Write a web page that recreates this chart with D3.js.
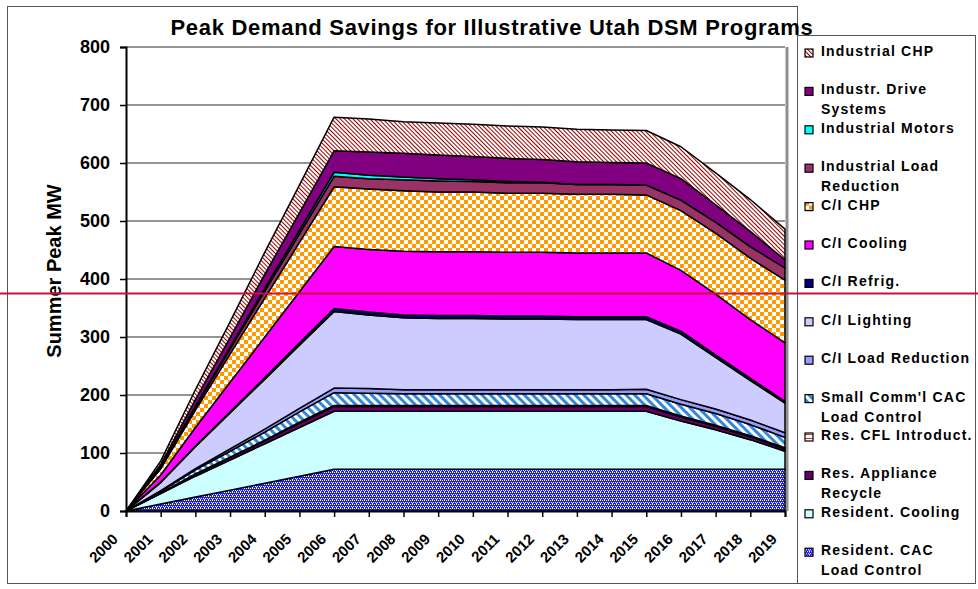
<!DOCTYPE html>
<html>
<head>
<meta charset="utf-8">
<script src="https://cdn.jsdelivr.net/npm/d3@7"></script>
<style>
  body { margin: 0; background: #fff; }
  svg { display: block; font-family: "Liberation Sans", Arial, sans-serif; }
</style>
</head>
<body>
<svg id="chart" width="978" height="589"></svg>
<script>
// years on the category axis
const years = d3.range(2000, 2020).map(String);

// MW per program, bottom of the stack first
const resCAC       = [0,12,24,36,48,60,72,72,72,72,72,72,72,72,72,72,72,72,72,72];
const resCooling   = [0,18,36,52,68,84,100,100,100,100,100,100,100,100,100,100,83,68,51,31];
const resAppliance = [0,1,3,4,5,7,8,8,8,8,8,8,8,8,8,8,7,6,5,4];
const resCFL       = [0,0,1,1,1,2,2,2,2,2,2,2,2,2,2,2,2,2,2,2];
const smallComm    = [0,3,7,10,14,18,22,21,20,20,20,20,20,20,20,20,20,20,19,18];
const ciLoadRed    = [0,1,2,4,5,6,8,8,7,7,7,7,7,7,7,8,8,8,8,8];
const ciLighting   = [0,14,38,62,86,109,132,127,124,123,123,122,122,121,121,120,113,89,68,51];
const ciRefrig     = [0,1,1,2,3,4,5,5,5,5,5,5,5,5,5,5,5,4,4,3];
const ciCooling    = [0,12,32,51,70,88,107,108,110,110,110,110,110,110,110,110,105,105,101,101];
const ciCHP        = [0,11,30,49,67,85,103,104,104,103,103,102,102,101,101,100,103,105,106,108];
const indLoadRed   = [0,2,5,8,12,15,18,18,19,19,18,18,18,17,17,17,18,19,20,21];
const indMotors    = [0,1,2,3,5,6,7,6,5,4,3,2,1,0,0,0,0,0,0,0];
const indDrive     = [0,4,11,17,24,30,37,40,41,41,40,40,39,39,38,38,37,30,26,14];
const indCHP       = [0,6,17,27,38,48,58,57,54,55,56,56,56,56,56,56,55,55,55,53];

const yTicks = [0,100,200,300,400,500,600,700,800];

const series = [
  {key: "resCAC",       label: ["Resident. CAC", "Load Control"],   values: resCAC,       fill: "url(#pCAC)"},
  {key: "resCooling",   label: ["Resident. Cooling"],               values: resCooling,   fill: "#ccffff"},
  {key: "resAppliance", label: ["Res. Appliance", "Recycle"],       values: resAppliance, fill: "#660066"},
  {key: "resCFL",       label: ["Res. CFL Introduct."],             values: resCFL,       fill: "url(#pCFL)"},
  {key: "smallComm",    label: ["Small Comm'l CAC", "Load Control"],values: smallComm,    fill: "url(#pSmall)"},
  {key: "ciLoadRed",    label: ["C/I Load Reduction"],              values: ciLoadRed,    fill: "#9999ff"},
  {key: "ciLighting",   label: ["C/I Lighting"],                    values: ciLighting,   fill: "#ccccff"},
  {key: "ciRefrig",     label: ["C/I Refrig."],                     values: ciRefrig,     fill: "#000080"},
  {key: "ciCooling",    label: ["C/I Cooling"],                     values: ciCooling,    fill: "#ff00ff"},
  {key: "ciCHP",        label: ["C/I CHP"],                         values: ciCHP,        fill: "url(#pCheck)"},
  {key: "indLoadRed",   label: ["Industrial Load", "Reduction"],    values: indLoadRed,   fill: "#993366"},
  {key: "indMotors",    label: ["Industrial Motors"],               values: indMotors,    fill: "#00ffff"},
  {key: "indDrive",     label: ["Industr. Drive", "Systems"],       values: indDrive,     fill: "#800080"},
  {key: "indCHP",       label: ["Industrial CHP"],                  values: indCHP,       fill: "url(#pIndCHP)"}
];

const svg = d3.select("#chart");
const defs = svg.append("defs");

// fill patterns
let p = defs.append("pattern").attr("id", "pCAC").attr("width", 4).attr("height", 4)
  .attr("patternUnits", "userSpaceOnUse");
p.append("rect").attr("width", 4).attr("height", 4).attr("fill", "#1a1aff");
[[0,0],[2,0],[1,2],[3,2],[0,3]].forEach(d => p.append("rect").attr("x", d[0]).attr("y", d[1])
  .attr("width", 1).attr("height", 1).attr("fill", "#fff"));

p = defs.append("pattern").attr("id", "pCFL").attr("width", 4).attr("height", 4)
  .attr("patternUnits", "userSpaceOnUse");
p.append("rect").attr("width", 4).attr("height", 4).attr("fill", "#fff");
p.append("rect").attr("y", 2).attr("width", 4).attr("height", 1).attr("fill", "#cc3333");

p = defs.append("pattern").attr("id", "pSmall").attr("width", 6).attr("height", 6)
  .attr("patternUnits", "userSpaceOnUse").attr("patternTransform", "rotate(-45)");
p.append("rect").attr("width", 6).attr("height", 6).attr("fill", "#fff");
p.append("rect").attr("width", 3).attr("height", 6).attr("fill", "#3388dd");

p = defs.append("pattern").attr("id", "pCheck").attr("width", 8).attr("height", 8)
  .attr("patternUnits", "userSpaceOnUse");
p.append("rect").attr("width", 8).attr("height", 8).attr("fill", "#fff");
p.append("rect").attr("width", 4).attr("height", 4).attr("fill", "#ff9900");
p.append("rect").attr("x", 4).attr("y", 4).attr("width", 4).attr("height", 4).attr("fill", "#ff9900");

p = defs.append("pattern").attr("id", "pIndCHP").attr("width", 3).attr("height", 3)
  .attr("patternUnits", "userSpaceOnUse").attr("patternTransform", "rotate(-45)");
p.append("rect").attr("width", 3).attr("height", 3).attr("fill", "#fff");
p.append("rect").attr("width", 1).attr("height", 3).attr("fill", "#990000");

// outer chart frame
svg.append("rect").attr("x", 7.5).attr("y", 6.5).attr("width", 790).attr("height", 577)
  .attr("fill", "#fff").attr("stroke", "#555").attr("stroke-width", 1);

const margin = {left: 126, right: 785, top: 47, bottom: 511};

const x = d3.scalePoint().domain(years).range([margin.left, margin.right]).padding(0);
const y = d3.scaleLinear().domain([0, 800]).range([margin.bottom, margin.top]);

// gridlines
svg.append("g").selectAll("line").data(yTicks.filter(d => d > 0)).join("line")
  .attr("x1", margin.left).attr("x2", margin.right)
  .attr("y1", d => y(d)).attr("y2", d => y(d))
  .attr("stroke", "#707070").attr("stroke-width", 1.5);

// plot right border
svg.append("line").attr("x1", margin.right + 2).attr("x2", margin.right + 2)
  .attr("y1", margin.top).attr("y2", margin.bottom)
  .attr("stroke", "#909090").attr("stroke-width", 3);

// stacked areas
const table = years.map((yr, i) => {
  const row = {year: yr};
  series.forEach(s => row[s.key] = s.values[i]);
  return row;
});
const stack = d3.stack().keys(series.map(s => s.key));
const layers = stack(table);

const area = d3.area()
  .x(d => x(d.data.year))
  .y0(d => y(d[0]))
  .y1(d => y(d[1]));

svg.append("g").selectAll("path").data(layers).join("path")
  .attr("d", area)
  .attr("fill", (d, i) => series[i].fill)
  .attr("stroke", "#000")
  .attr("stroke-width", 1.5)
  .attr("stroke-linejoin", "round");

// axes
const yAxis = svg.append("g").attr("transform", `translate(${margin.left},0)`)
  .call(d3.axisLeft(y).tickValues(yTicks).tickSize(6).tickPadding(10));
const xAxis = svg.append("g").attr("transform", `translate(0,${margin.bottom})`)
  .call(d3.axisBottom(x).tickSize(6).tickFormat(""));

[yAxis, xAxis].forEach(g => {
  g.select(".domain").attr("stroke", "#000").attr("stroke-width", 2);
  g.selectAll(".tick line").attr("stroke", "#000").attr("stroke-width", 1.5);
});
yAxis.selectAll("text").attr("font-size", 18).attr("font-weight", "bold")
  .attr("fill", "#000").attr("font-family", "Liberation Sans, Arial, sans-serif");

svg.append("g").selectAll("text").data(years).join("text")
  .attr("transform", d => `translate(${x(d) - 7},540) rotate(-45)`)
  .attr("text-anchor", "end")
  .attr("font-size", 15).attr("font-weight", "bold")
  .text(d => d);

// titles
svg.append("text").attr("x", 492).attr("y", 35).attr("text-anchor", "middle")
  .attr("font-size", 22).attr("font-weight", "bold").attr("letter-spacing", 0.7)
  .text("Peak Demand Savings for Illustrative Utah DSM Programs");

svg.append("text").attr("transform", "translate(61,271) rotate(-90)")
  .attr("text-anchor", "middle").attr("font-size", 20).attr("font-weight", "bold")
  .text("Summer Peak MW");

// legend (top entry = top of stack)
const legend = svg.append("g");
legend.append("rect").attr("x", 797.5).attr("y", 35.5).attr("width", 178).attr("height", 548)
  .attr("fill", "#fff").attr("stroke", "#555").attr("stroke-width", 1);

const legendItems = series.slice().reverse();
const item = legend.selectAll("g.item").data(legendItems).join("g")
  .attr("class", "item")
  .attr("transform", (d, i) => `translate(805,${56 + i * 38.4})`);
item.append("rect").attr("x", 0).attr("y", -7).attr("width", 8).attr("height", 8)
  .attr("fill", d => d.fill).attr("stroke", "#000").attr("stroke-width", 1.2);
item.each(function(d) {
  d3.select(this).selectAll("text").data(d.label).join("text")
    .attr("x", 16).attr("y", (t, j) => j * 20)
    .attr("font-size", 14).attr("font-weight", "bold").attr("letter-spacing", 1.2)
    .text(t => t);
});

// stray red line across the picture
svg.append("line").attr("x1", 0).attr("x2", 978).attr("y1", 293.5).attr("y2", 293.5)
  .attr("stroke", "#c0143c").attr("stroke-width", 2);
</script>
</body>
</html>
